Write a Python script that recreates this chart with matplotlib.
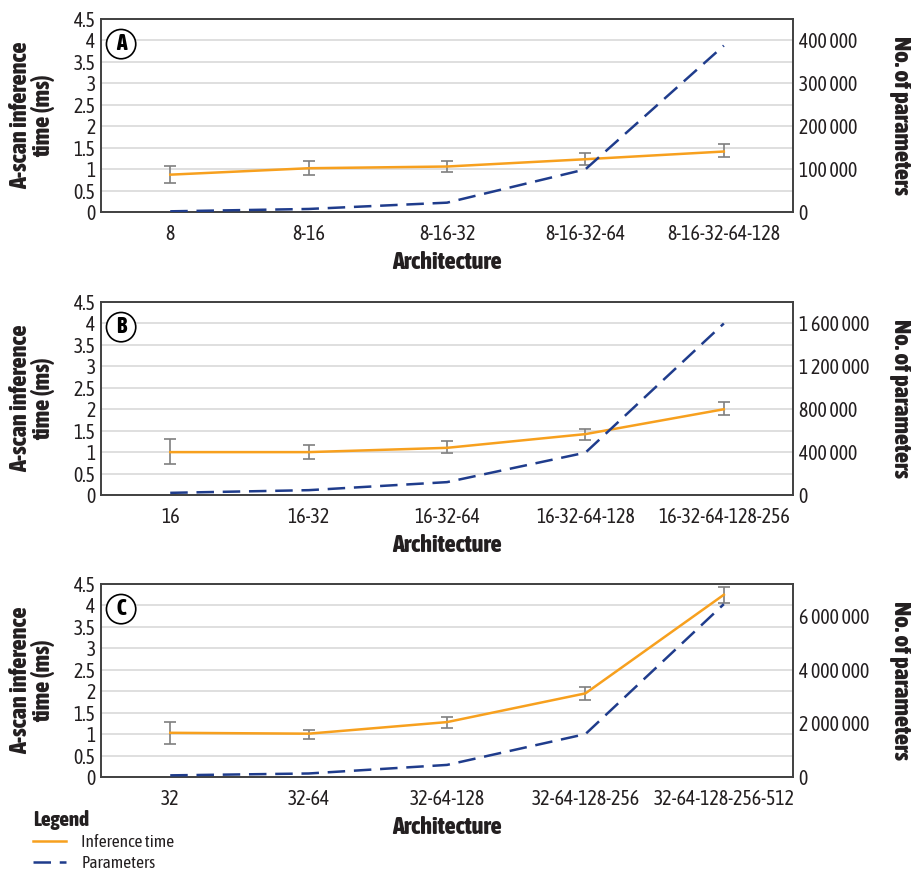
import matplotlib
matplotlib.use("Agg")
import matplotlib.pyplot as plt
from matplotlib.ticker import FuncFormatter, MultipleLocator
from matplotlib.lines import Line2D

plt.rcParams['font.family'] = ['Asap Condensed', 'DejaVu Sans']

# Panel A
arch_a = ['8', '8-16', '8-16-32', '8-16-32-64', '8-16-32-64-128']
time_a = [0.87, 1.02, 1.06, 1.23, 1.41]
low_a = [0.68, 0.87, 0.93, 1.09, 1.28]
high_a = [1.07, 1.18, 1.19, 1.37, 1.59]
params_a = [1500, 7000, 21700, 99500, 388000]

# Panel B
arch_b = ['16', '16-32', '16-32-64', '16-32-64-128', '16-32-64-128-256']
time_b = [1.00, 1.00, 1.10, 1.42, 2.00]
low_b = [0.72, 0.84, 0.97, 1.28, 1.86]
high_b = [1.30, 1.16, 1.26, 1.53, 2.16]
params_b = [20000, 45000, 120000, 395000, 1600000]

# Panel C
arch_c = ['32', '32-64', '32-64-128', '32-64-128-256', '32-64-128-256-512']
time_c = [1.03, 1.01, 1.28, 1.95, 4.25]
low_c = [0.78, 0.88, 1.14, 1.79, 4.06]
high_c = [1.29, 1.10, 1.41, 2.10, 4.44]
params_c = [60000, 130000, 450000, 1600000, 6450000]

panels = [
    ('A', arch_a, time_a, low_a, high_a, params_a, 450000, 100000),
    ('B', arch_b, time_b, low_b, high_b, params_b, 1800000, 400000),
    ('C', arch_c, time_c, low_c, high_c, params_c, 7200000, 2000000),
]

ORANGE = '#F7A01E'
BLUE = '#1F3C8C'
GRID = '#D9D9D9'
FRAME = '#404040'
TXT = '#231F20'
DASH = (0, (7, 3.5))

fig = plt.figure(figsize=(9.11, 8.73), dpi=100)

left, width = 0.1109, 0.7596
bottoms = [0.7572, 0.4330, 0.1100]
height = 0.221


def sep_fmt(v, pos):
    return '{:,}'.format(int(round(v))).replace(',', ' ')


for (letter, arch, t, lo, hi, par, pmax, pstep), b in zip(panels, bottoms):
    ax = fig.add_axes([left, b, width, height])
    ax2 = ax.twinx()
    x = list(range(len(arch)))

    yerr = [[ti - l for ti, l in zip(t, lo)], [h - ti for ti, h in zip(t, hi)]]
    ax.errorbar(x, t, yerr=yerr, color=ORANGE, lw=1.8, ecolor='#7F7F7F',
                elinewidth=1.2, capsize=4, capthick=1.2, zorder=3)
    ax2.plot(x, par, color=BLUE, lw=1.8, ls=DASH, zorder=3)

    ax.set_xlim(-0.5, len(arch) - 0.5)
    ax.set_ylim(0, 4.5)
    ax.yaxis.set_major_locator(MultipleLocator(0.5))
    ax.yaxis.set_major_formatter(FuncFormatter(lambda v, p: '%g' % v))
    ax.grid(axis='y', color=GRID, lw=1.2, zorder=0)
    ax.set_axisbelow(True)
    ax.set_xticks(x)
    ax.set_xticklabels(arch)

    ax2.set_ylim(0, pmax)
    ax2.yaxis.set_major_locator(MultipleLocator(pstep))
    ax2.yaxis.set_major_formatter(FuncFormatter(sep_fmt))

    for a in (ax, ax2):
        a.tick_params(length=0, labelsize=14.2, colors=TXT, pad=4)
        for s in a.spines.values():
            s.set_color(FRAME)
            s.set_linewidth(1.2)
    ax.tick_params(axis='x', pad=9)

    ax.set_xlabel('Architecture', fontsize=17.5, fontweight=800, color=TXT)
    ax.xaxis.set_label_coords(0.5, -0.2)
    ax.set_ylabel('A-scan inference\ntime (ms)', fontsize=17.5, fontweight=800,
                  color=TXT, linespacing=0.95, va='center')
    ax.yaxis.set_label_coords(-0.1, 0.5)
    ax2.set_ylabel('No. of parameters', fontsize=17.5, fontweight=800,
                   color=TXT, rotation=270, va='center')
    ax2.yaxis.set_label_coords(1.155, 0.5)

    ax.text(0.029, 0.87, letter, transform=ax.transAxes, fontsize=15.5,
            fontweight=800, ha='center', va='center', color='black',
            bbox=dict(boxstyle='circle,pad=0.17', fc='white', ec='black', lw=1.2))

handles = [Line2D([], [], color=ORANGE, lw=1.8),
           Line2D([], [], color=BLUE, lw=1.8, ls=DASH)]
leg = fig.legend(handles, ['Inference time', 'Parameters'], loc='upper left',
                 bbox_to_anchor=(0.036, 0.072), frameon=False, fontsize=12.5,
                 title='Legend', alignment='left', handlelength=1.9,
                 handletextpad=0.9, labelspacing=0.22, borderpad=0.0,
                 borderaxespad=0.0)
leg.get_title().set_fontweight(800)
leg.get_title().set_fontsize(15)
leg.get_title().set_color(TXT)
for t in leg.get_texts():
    t.set_color(TXT)

fig.savefig('out.png', dpi=100)
